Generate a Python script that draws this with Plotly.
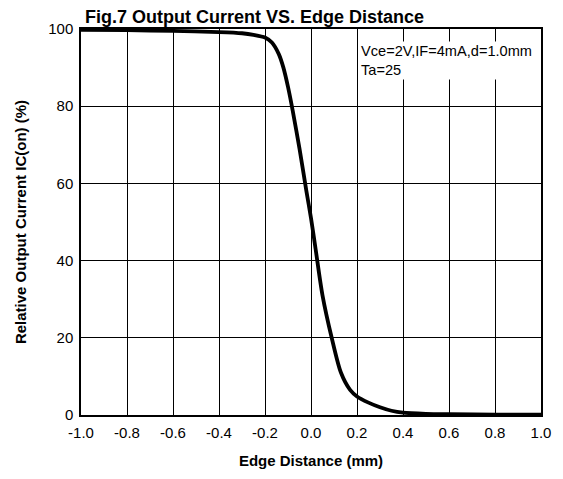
import plotly.graph_objects as go

edge_distance = [-1.0, -0.8, -0.6, -0.4, -0.3, -0.25, -0.2, -0.17, -0.14, -0.12, -0.10, -0.08, -0.05, -0.02, 0.0, 0.02, 0.05, 0.09, 0.13, 0.17, 0.20, 0.25, 0.30, 0.35, 0.40, 0.50, 0.60, 0.80, 1.0]
relative_current = [99.8, 99.7, 99.5, 99.2, 98.9, 98.5, 97.8, 96.5, 93.5, 90.0, 85.0, 79.0, 69.0, 58.0, 51.0, 43.0, 31.0, 20.0, 11.0, 6.5, 4.8, 3.2, 2.0, 1.1, 0.6, 0.3, 0.2, 0.1, 0.1]

x_ticks = [-1.0, -0.8, -0.6, -0.4, -0.2, 0.0, 0.2, 0.4, 0.6, 0.8, 1.0]
y_ticks = [0, 20, 40, 60, 80, 100]

fig = go.Figure()
fig.add_trace(go.Scatter(x=edge_distance, y=relative_current, mode="lines",
                         line=dict(color="black", width=3.8, shape="spline", smoothing=0.8),
                         showlegend=False))

# page has an 8px body margin, so the figure is sized/offset accordingly
fig.update_layout(
    width=555, height=471,
    margin=dict(l=65, r=14, t=21, b=60),
    paper_bgcolor="white", plot_bgcolor="white",
    font=dict(family="Liberation Sans, Arial, sans-serif", color="black", size=15),
    xaxis=dict(range=[-1.0, 1.0], tickvals=x_ticks, ticktext=[f"{v:.1f}" for v in x_ticks],
               showgrid=True, gridcolor="black", gridwidth=1, zeroline=False,
               showline=True, linecolor="black", linewidth=1.5, mirror=True,
               ticks="", ticklabelstandoff=3, tickfont=dict(size=15), ticklabeloverflow="allow",
               title=dict(text="<b>Edge Distance (mm)</b>", font=dict(size=15), standoff=16)),
    yaxis=dict(range=[0, 100], tickvals=y_ticks,
               showgrid=True, gridcolor="black", gridwidth=1, zeroline=False,
               showline=True, linecolor="black", linewidth=1.5, mirror=True,
               ticks="", ticklabelstandoff=3, tickfont=dict(size=15), ticklabeloverflow="allow",
               title=dict(text="<b>Relative Output Current IC(on) (%)</b>", font=dict(size=15), standoff=18)),
    annotations=[
        dict(text="<b>Fig.7 Output Current VS. Edge Distance</b>", xref="paper", yref="paper",
             x=(67 - 65) / 476, y=(411 - 8.5) / 390,
             showarrow=False, font=dict(size=18), xanchor="left", yanchor="middle"),
        dict(text="Vce=2V,IF=4mA,d=1.0mm<br>Ta=25", x=0.21, y=97, xref="x", yref="y",
             showarrow=False, font=dict(size=14.6), xanchor="left", yanchor="top", align="left",
             bgcolor="white"),
    ],
)

fig.write_html("out.html", config={"displayModeBar": False})
